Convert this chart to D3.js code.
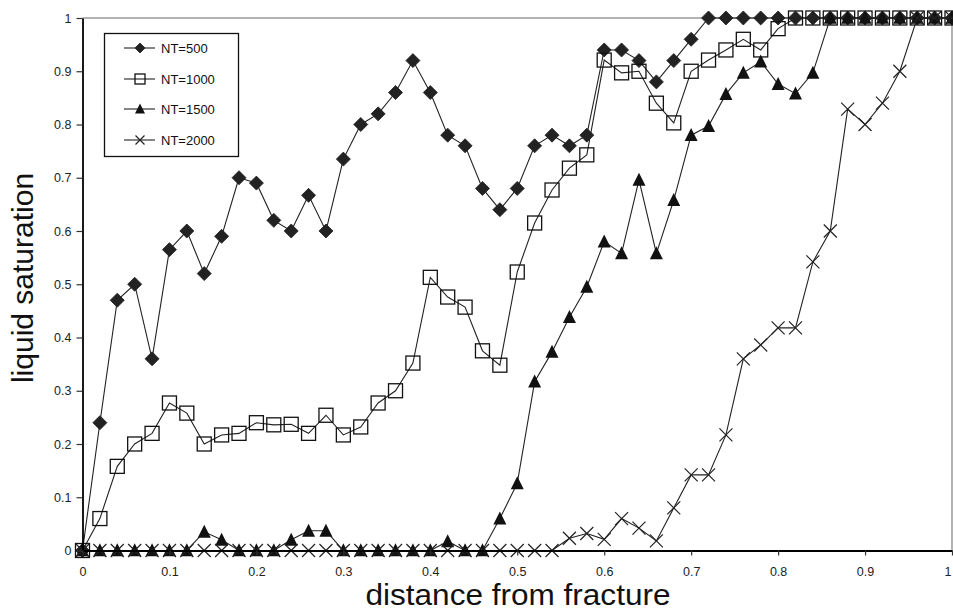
<!DOCTYPE html>
<html>
<head>
<meta charset="utf-8">
<script src="https://cdn.jsdelivr.net/npm/d3@7"></script>
<style>
  html, body { margin: 0; padding: 0; background: #fff; }
  svg { display: block; font-family: "Liberation Sans", Arial, sans-serif; }
</style>
</head>
<body>
<svg id="chart" width="953" height="611"></svg>
<script>
// distance from fracture, 0 to 1 in steps of 0.02
const distance = d3.range(51).map(i => +(i * 0.02).toFixed(2));

const nt500 = [0, 0.24, 0.47, 0.50, 0.36, 0.565, 0.60, 0.52, 0.59, 0.70,
  0.69, 0.62, 0.60, 0.667, 0.60, 0.735, 0.80, 0.82, 0.86, 0.92,
  0.86, 0.78, 0.76, 0.68, 0.64, 0.68, 0.76, 0.78, 0.76, 0.78,
  0.94, 0.94, 0.92, 0.88, 0.92, 0.96, 1, 1, 1, 1,
  1, 1, 1, 1, 1, 1, 1, 1, 1, 1, 1];

const nt1000 = [0, 0.06, 0.158, 0.20, 0.22, 0.277, 0.258, 0.20, 0.217, 0.22,
  0.24, 0.236, 0.237, 0.22, 0.254, 0.217, 0.232, 0.277, 0.30, 0.352,
  0.513, 0.476, 0.457, 0.375, 0.348, 0.523, 0.615, 0.677, 0.718, 0.743,
  0.921, 0.897, 0.90, 0.84, 0.803, 0.90, 0.921, 0.94, 0.96, 0.94,
  0.98, 1, 1, 1, 1, 1, 1, 1, 1, 1, 1];

const nt1500 = [0, 0, 0, 0, 0, 0, 0, 0.035, 0.02, 0,
  0, 0, 0.02, 0.037, 0.037, 0, 0, 0, 0, 0,
  0, 0.017, 0, 0, 0.06, 0.126, 0.317, 0.373, 0.438, 0.495,
  0.58, 0.558, 0.696, 0.558, 0.658, 0.78, 0.797, 0.857, 0.897, 0.918,
  0.876, 0.858, 0.897, 1, 1, 1, 1, 1, 1, 1, 1];

const nt2000 = [0, 0, 0, 0, 0, 0, 0, 0, 0, 0,
  0, 0, 0, 0, 0, 0, 0, 0, 0, 0,
  0, 0, 0, 0, 0, 0, 0, 0, 0.023, 0.032,
  0.021, 0.06, 0.042, 0.018, 0.08, 0.142, 0.142, 0.217, 0.36, 0.386,
  0.418, 0.418, 0.542, 0.60, 0.829, 0.80, 0.84, 0.90, 1, 1, 1];

const seriesNames = ["NT=500", "NT=1000", "NT=1500", "NT=2000"];
const tickValues = d3.range(11).map(i => +(i / 10).toFixed(1));

const svg = d3.select("#chart");
const plotLeft = 82.5, plotRight = 952, plotTop = 18, plotBottom = 550.5;

const x = d3.scaleLinear().domain([0, 1]).range([plotLeft, plotRight]);
const y = d3.scaleLinear().domain([0, 1]).range([plotBottom, plotTop]);
const fmt = v => v === 0 ? "0" : v === 1 ? "1" : d3.format(".1f")(v);

// plot frame: grey top and right edges
svg.append("path")
  .attr("d", `M${plotLeft},${plotTop}H${plotRight}V${plotBottom}`)
  .attr("fill", "none").attr("stroke", "#9a9a9a").attr("stroke-width", 1.5);

// markers
const markerDraw = {
  diamond: (g, s) => g.append("path")
    .attr("d", d3.symbol(d3.symbolSquare, s * s / 2)())
    .attr("transform", "rotate(45)")
    .attr("fill", "#222").attr("stroke", "#222").attr("stroke-width", 0.8),
  square: (g, s) => g.append("rect")
    .attr("x", -s / 2).attr("y", -s / 2).attr("width", s).attr("height", s)
    .attr("fill", "none").attr("stroke", "#111").attr("stroke-width", 1.3),
  triangle: (g, s) => g.append("path")
    .attr("d", `M0,${-s * 0.55}L${s / 2},${s * 0.45}L${-s / 2},${s * 0.45}Z`)
    .attr("fill", "#111"),
  cross: (g, s) => g.append("path")
    .attr("d", `M${-s / 2},${-s / 2}L${s / 2},${s / 2}M${-s / 2},${s / 2}L${s / 2},${-s / 2}`)
    .attr("fill", "none").attr("stroke", "#222").attr("stroke-width", 1.2)
};

const series = [
  { name: seriesNames[0], values: nt500, marker: "diamond", size: 14, lsize: 10 },
  { name: seriesNames[1], values: nt1000, marker: "square", size: 14, lsize: 10 },
  { name: seriesNames[2], values: nt1500, marker: "triangle", size: 13, lsize: 10 },
  { name: seriesNames[3], values: nt2000, marker: "cross", size: 13, lsize: 9 }
];

const line = d3.line().x((d, i) => x(distance[i])).y(d => y(d));

series.forEach(s => {
  const g = svg.append("g");
  g.append("path")
    .attr("d", line(s.values))
    .attr("fill", "none").attr("stroke", "#222").attr("stroke-width", 1.1);
  s.values.forEach((v, i) => {
    const m = g.append("g").attr("transform", `translate(${x(distance[i])},${y(v)})`);
    markerDraw[s.marker](m, s.size);
  });
});

// axes
const yAxis = svg.append("g")
  .attr("transform", `translate(${plotLeft},0)`)
  .call(d3.axisLeft(y).tickValues(tickValues).tickFormat(fmt).tickSize(6).tickSizeOuter(0).tickPadding(5));
const xAxis = svg.append("g")
  .attr("transform", `translate(0,${plotBottom})`)
  .call(d3.axisBottom(x).tickValues(tickValues).tickFormat(fmt).tickSize(5).tickSizeOuter(0).tickPadding(12));
[yAxis, xAxis].forEach(a => {
  a.select(".domain").attr("stroke", "#000").attr("stroke-width", 1.8);
  a.selectAll(".tick line").attr("stroke", "#333").attr("stroke-width", 1.2);
  a.selectAll(".tick text").attr("fill", "#222").style("font-size", "12.5px")
    .style("font-family", "'Liberation Sans', Arial, sans-serif");
});
// keep the last x label inside the page edge
xAxis.selectAll(".tick text").filter(d => d === 1).attr("text-anchor", "end").attr("dx", -1);

// axis titles
svg.append("text")
  .attr("x", 518).attr("y", 605)
  .attr("text-anchor", "middle")
  .attr("textLength", 305).attr("lengthAdjust", "spacingAndGlyphs")
  .style("font-size", "29px").attr("fill", "#111")
  .text("distance from fracture");
svg.append("text")
  .attr("transform", "translate(33,278) rotate(-90)")
  .attr("text-anchor", "middle")
  .style("font-size", "30px").attr("fill", "#111")
  .text("liquid saturation");

// legend
const legend = svg.append("g");
legend.append("rect")
  .attr("x", 104.5).attr("y", 33.5).attr("width", 134).attr("height", 123)
  .attr("fill", "#fff").attr("stroke", "#111").attr("stroke-width", 1.3);
const legendY = [48, 79, 109, 140];
series.forEach((s, i) => {
  const row = legend.append("g").attr("transform", `translate(0,${legendY[i]})`);
  row.append("line").attr("x1", 124).attr("x2", 155).attr("y1", 0).attr("y2", 0)
    .attr("stroke", "#222").attr("stroke-width", 1.1);
  const m = row.append("g").attr("transform", "translate(140,0)");
  markerDraw[s.marker](m, s.lsize);
  row.append("text").attr("x", 161).attr("y", 4.5)
    .style("font-size", "13px").attr("fill", "#111")
    .text(s.name);
});
</script>
</body>
</html>
